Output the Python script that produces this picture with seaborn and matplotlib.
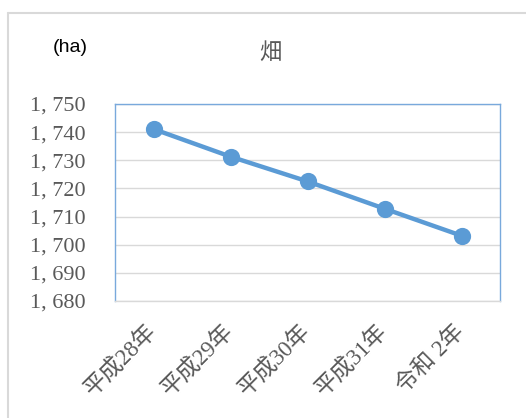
import matplotlib
matplotlib.use("Agg")
import matplotlib.pyplot as plt
import seaborn as sns
import pandas as pd
from matplotlib.lines import Line2D
from matplotlib.ticker import FuncFormatter

categories = ["平成28年", "平成29年", "平成30年", "平成31年", "令和 2年"]
values = [1741.1, 1731.3, 1722.5, 1712.8, 1703.2]
yticks = [1680, 1690, 1700, 1710, 1720, 1730, 1740, 1750]

sns.set_theme(style="white")
plt.rcParams['font.family'] = ['Liberation Serif', 'Noto Sans CJK JP', 'DejaVu Sans']

df = pd.DataFrame({"year": categories, "area": values})

fig = plt.figure(figsize=(5.26, 4.18), dpi=100)
ax = fig.add_axes([115/526, 1-301/418, 385/526, 197/418])

sns.pointplot(data=df, x="year", y="area", ax=ax, color="#5B9BD5",
              markers="o", linewidth=3.2, markersize=10)

ax.set_ylim(1680, 1750)
ax.set_yticks(yticks)
ax.yaxis.set_major_formatter(FuncFormatter(lambda v, p: f"{int(v):,}".replace(",", ", ")))
ax.set_xlim(-0.5, 4.5)
ax.grid(axis="y", color="#D9D9D9", linewidth=1)
ax.set_axisbelow(True)
ax.set_xlabel("")
ax.set_ylabel("")

for s in ["left", "right", "top"]:
    ax.spines[s].set_color("#79A9DC")
    ax.spines[s].set_linewidth(1)
ax.spines["bottom"].set_color("#D9D9D9")
ax.spines["bottom"].set_linewidth(1)

ax.tick_params(axis="y", length=0, pad=21, labelsize=16, labelcolor="#595959")
ax.tick_params(axis="x", length=0, pad=20, labelsize=16.5, labelcolor="#595959")
for lab in ax.get_xticklabels():
    lab.set_rotation(45)
    lab.set_ha("right")
    lab.set_va("center")
    lab.set_rotation_mode("anchor")

fig.text(270/526, 1-52/418, "畑", ha="center", va="center", fontsize=16,
         color="#595959", family=['Noto Sans CJK JP', 'DejaVu Sans'])
fig.text(70/526, 1-48/418, "(ha)", ha="center", va="center", fontsize=14,
         color="black", family=['Liberation Sans', 'DejaVu Sans'])

# outer chart border
fig.add_artist(Line2D([8/526, 8/526], [0, 1-13/418], transform=fig.transFigure,
                      color="#D9D9D9", linewidth=1.5))
fig.add_artist(Line2D([8/526, 1], [1-13/418, 1-13/418], transform=fig.transFigure,
                      color="#D9D9D9", linewidth=1.5))

fig.savefig("out.png", dpi=100, facecolor="white")
